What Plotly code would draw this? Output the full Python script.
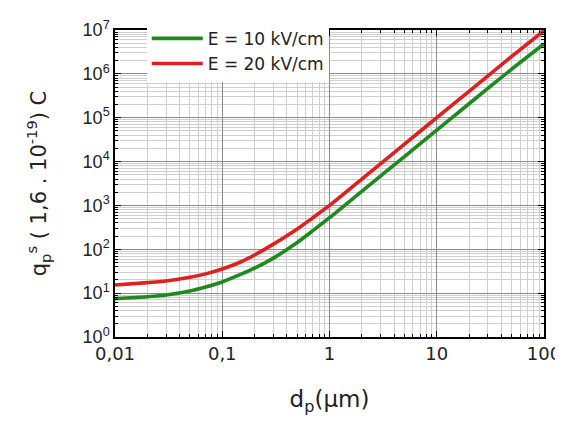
import plotly.graph_objects as go

# Particle diameter (µm)
dp = [0.01, 0.02, 0.03, 0.05, 0.07, 0.1, 0.15, 0.2, 0.3, 0.5, 0.7, 1, 2, 5, 10, 20, 50, 100]
# Saturation charge (units of 1.6e-19 C)
q_e10 = [7.5, 8.3, 9.1, 11.2, 13.8, 18, 27, 37, 63, 143, 266, 525, 2100, 13000, 52000, 2.08e5, 1.28e6, 4.8e6]
q_e20 = [15.3, 17.4, 19, 23, 27.5, 35.5, 52, 74, 131, 290, 525, 1000, 4000, 25000, 1.0e5, 4.0e5, 2.5e6, 9.7e6]

names = ["E = 10 kV/cm", "E = 20 kV/cm"]
colors = ["#1e8a1e", "#e0201e"]

x_ticks = [0.01, 0.1, 1, 10, 100]
x_ticktext = ["0,01", "0,1", "1", "10", "100"]
y_ticks = [10**k for k in range(0, 8)]
y_ticktext = ["10<sup>%d</sup>" % k for k in range(0, 8)]

x_minor = [m * 10.0**k for k in range(-2, 2) for m in range(2, 10)]
y_minor = [m * 10.0**k for k in range(0, 7) for m in range(2, 10)]

fig = go.Figure()
for name, col, ys in zip(names, colors, [q_e10, q_e20]):
    fig.add_trace(go.Scatter(x=dp, y=ys, mode="lines", name=name,
                             line=dict(color=col, width=3.6, shape="spline", smoothing=0.8)))

wide = "DejaVu Sans, Verdana, sans-serif"
narrow = "Liberation Sans, Arial, sans-serif"
axis_common = dict(
    type="log", showline=True, linecolor="black", linewidth=1.5, mirror="allticks",
    ticks="inside", ticklen=6, tickcolor="black", tickwidth=1.2,
    showgrid=True, gridcolor="#8c8c8c", gridwidth=1, zeroline=False,
    ticklabeloverflow="allow",
)

fig.update_xaxes(**axis_common, range=[-2, 2], tickmode="array", tickvals=x_ticks, ticktext=x_ticktext,
                 tickfont=dict(family=wide, size=18, color="#222"),
                 minor=dict(tickmode="array", tickvals=x_minor, ticks="inside", ticklen=3,
                            tickcolor="black", showgrid=True, gridcolor="#cfcfcf", gridwidth=1),
                 title=dict(text="d<sub>p</sub>(µm)", font=dict(family=wide, size=23, color="#222"), standoff=28))
fig.update_yaxes(**axis_common, range=[0, 7], tickmode="array", tickvals=y_ticks, ticktext=y_ticktext,
                 tickfont=dict(family=narrow, size=18, color="#222"),
                 minor=dict(tickmode="array", tickvals=y_minor, ticks="inside", ticklen=3,
                            tickcolor="black", showgrid=True, gridcolor="#cfcfcf", gridwidth=1),
                 title=dict(text="q<sub>p</sub><sup>s</sup> ( 1,6 . 10<sup>-19</sup>) C",
                            font=dict(family=wide, size=21, color="#222"), standoff=30))

fig.update_layout(
    width=563, height=423,
    margin=dict(l=107, r=23, t=10, b=94),
    paper_bgcolor="white", plot_bgcolor="white",
    legend=dict(x=0.074, y=1.03, xanchor="left", yanchor="top", bgcolor="white",
                font=dict(family=wide, size=17, color="#222"), tracegroupgap=0,
                itemwidth=51),
    showlegend=True,
)

fig.write_html("out.html")
